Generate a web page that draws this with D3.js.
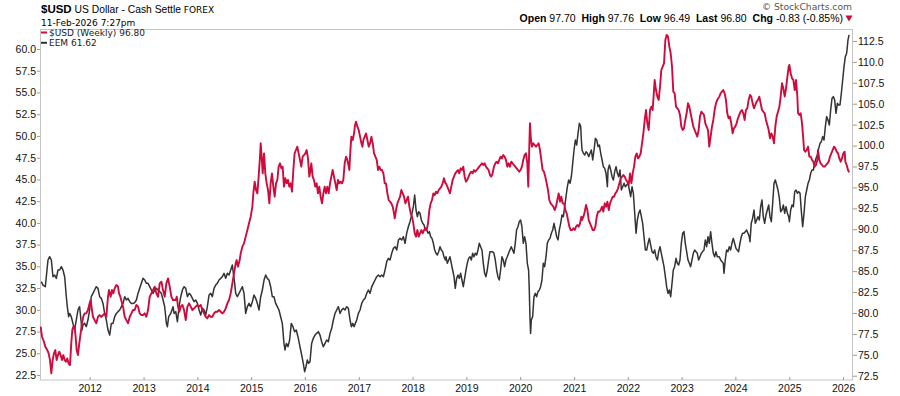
<!DOCTYPE html>
<html><head><meta charset="utf-8">
<script src="https://cdn.jsdelivr.net/npm/d3@7"></script>
<style>body{margin:0;background:#fff} svg{display:block}</style>
</head><body><svg id="c" width="900" height="396"></svg>
<script>
// ---- DATA (time as decimal year, value) ----
const usdSeries = [
[2011.089,78.36],[2011.113,77.16],[2011.150,76.56],[2011.175,75.97],[2011.212,75.57],[2011.237,75.17],[2011.262,74.37],[2011.287,72.78],[2011.312,74.37],[2011.336,75.17],[2011.361,75.57],[2011.386,74.37],[2011.411,74.97],[2011.435,75.37],[2011.460,74.97],[2011.485,74.37],[2011.510,74.97],[2011.535,74.37],[2011.559,74.18],[2011.584,74.57],[2011.609,73.97],[2011.634,73.77],[2011.658,76.36],[2011.677,77.96],[2011.696,78.36],[2011.720,78.36],[2011.739,77.16],[2011.758,75.57],[2011.782,74.97],[2011.807,76.36],[2011.832,77.56],[2011.857,78.76],[2011.881,79.55],[2011.906,79.95],[2011.937,79.95],[2011.968,80.35],[2011.999,81.15],[2012.018,81.55],[2012.043,80.35],[2012.061,79.55],[2012.092,79.15],[2012.123,78.76],[2012.154,79.55],[2012.185,79.75],[2012.216,79.55],[2012.247,79.75],[2012.278,79.95],[2012.309,79.55],[2012.340,81.94],[2012.358,82.74],[2012.389,81.94],[2012.414,82.74],[2012.439,82.34],[2012.464,82.94],[2012.495,83.34],[2012.526,83.14],[2012.544,82.34],[2012.569,81.94],[2012.600,81.15],[2012.619,80.75],[2012.650,79.55],[2012.681,79.15],[2012.712,78.76],[2012.743,79.55],[2012.774,79.95],[2012.805,80.35],[2012.835,80.35],[2012.866,80.95],[2012.897,80.75],[2012.928,79.95],[2012.959,79.75],[2012.990,79.75],[2013.021,79.95],[2013.052,79.55],[2013.083,80.35],[2013.114,81.94],[2013.145,82.34],[2013.176,82.74],[2013.207,83.14],[2013.238,82.34],[2013.269,81.94],[2013.300,83.54],[2013.331,83.74],[2013.362,82.74],[2013.393,81.94],[2013.424,83.54],[2013.455,84.13],[2013.486,83.14],[2013.517,81.94],[2013.548,81.55],
[2013.598,81.55],[2013.617,81.94],[2013.641,80.75],[2013.666,80.15],[2013.691,80.75],[2013.722,80.95],[2013.753,80.35],[2013.784,79.15],[2013.815,80.75],[2013.846,81.15],[2013.877,80.75],[2013.908,80.35],[2013.939,80.55],[2013.970,80.75],[2014.001,80.95],[2014.032,80.75],[2014.063,80.95],[2014.094,80.35],[2014.125,79.95],[2014.155,79.55],[2014.186,79.35],[2014.217,79.75],[2014.248,79.55],[2014.279,79.55],[2014.310,79.95],[2014.341,80.15],[2014.372,80.15],[2014.403,80.35],[2014.434,80.15],[2014.465,79.95],[2014.496,80.15],[2014.527,80.55],[2014.558,81.15],[2014.589,81.55],[2014.620,82.34],[2014.651,83.54],[2014.682,84.73],[2014.713,85.93],[2014.731,86.32],[2014.756,85.53],[2014.787,86.32],[2014.806,87.12],[2014.837,87.92],[2014.868,88.32],[2014.899,89.12],[2014.930,89.91],[2014.961,90.71],[2014.992,91.5],[2015.023,92.7],[2015.041,94.29],[2015.066,95.69],[2015.091,94.69],[2015.116,94.29],[2015.140,96.29],[2015.165,98.68],[2015.178,100.27],[2015.196,98.68],[2015.215,96.68],[2015.240,99.07],[2015.264,96.68],[2015.289,95.49],[2015.314,94.69],[2015.339,93.1],[2015.363,95.49],[2015.388,96.68],[2015.413,95.09],[2015.438,93.89],[2015.463,95.49],[2015.487,95.89],[2015.512,97.48],[2015.537,97.88],[2015.562,97.28],[2015.586,97.48],[2015.611,95.09],[2015.636,96.09],[2015.661,95.49],[2015.686,95.89],[2015.710,95.09],[2015.735,95.49],[2015.760,94.49],[2015.785,97.08],[2015.809,99.07],[2015.834,99.47],[2015.859,99.87],[2015.884,99.07],[2015.909,98.28],[2015.933,97.48],[2015.958,98.68],[2015.983,98.87],[2016.008,99.07],[2016.032,99.47],[2016.057,98.47],[2016.082,96.29],
[2016.094,96.68],[2016.119,97.88],[2016.144,96.29],[2016.168,95.89],[2016.193,95.09],[2016.218,95.49],[2016.243,94.29],[2016.267,95.09],[2016.292,93.89],[2016.317,93.1],[2016.342,94.29],[2016.367,95.09],[2016.391,94.29],[2016.416,95.09],[2016.441,94.29],[2016.466,95.49],[2016.490,96.29],[2016.515,97.08],[2016.540,96.29],[2016.565,95.49],[2016.590,94.69],[2016.614,95.89],[2016.639,95.49],[2016.664,95.69],[2016.689,95.49],[2016.713,95.89],[2016.738,97.88],[2016.763,98.68],[2016.788,98.28],[2016.813,97.48],[2016.825,97.08],[2016.844,99.47],[2016.862,101.07],[2016.887,100.67],[2016.912,101.46],[2016.930,102.46],[2016.949,102.86],[2016.974,102.26],[2016.998,101.86],[2017.023,101.07],[2017.048,100.27],[2017.067,99.87],[2017.085,100.67],[2017.110,101.07],[2017.135,101.46],[2017.160,100.67],[2017.184,99.87],[2017.209,100.27],[2017.234,101.07],[2017.259,100.27],[2017.283,99.07],[2017.308,98.68],[2017.333,98.28],[2017.358,97.08],[2017.382,97.48],[2017.407,97.08],[2017.432,97.08],[2017.457,96.68],[2017.482,95.49],[2017.506,95.49],[2017.531,94.29],[2017.556,93.5],[2017.581,93.3],[2017.605,93.1],[2017.630,92.7],[2017.655,91.9],[2017.667,91.3],[2017.692,92.3],[2017.717,93.1],[2017.742,93.5],[2017.767,93.89],[2017.791,94.69],[2017.816,94.29],[2017.841,93.89],[2017.866,93.1],[2017.890,93.5],[2017.915,93.89],[2017.940,92.7],[2017.965,91.9],[2017.990,91.5],[2018.014,90.71],[2018.039,89.51],[2018.064,89.12],[2018.089,89.91],[2018.113,89.12],[2018.138,89.51],[2018.163,89.91],[2018.188,89.51],[2018.213,89.91],[2018.237,90.11],[2018.262,89.91],[2018.287,90.71],[2018.312,92.3],[2018.336,93.1],[2018.361,93.5],[2018.386,94.29],[2018.411,94.09],[2018.436,94.49],[2018.460,94.29],[2018.485,94.69],[2018.510,94.89],[2018.535,95.09],[2018.559,95.49],[2018.584,96.09],[2018.609,95.49],
[2018.621,95.49],[2018.646,95.09],[2018.671,94.69],[2018.695,94.29],[2018.720,95.09],[2018.745,95.89],[2018.770,96.29],[2018.794,96.68],[2018.819,96.88],[2018.844,97.08],[2018.869,96.68],[2018.894,97.28],[2018.918,97.08],[2018.943,97.48],[2018.968,96.29],[2018.993,95.69],[2019.017,95.89],[2019.042,96.29],[2019.067,96.68],[2019.092,96.88],[2019.117,96.68],[2019.141,97.08],[2019.166,96.88],[2019.191,97.08],[2019.216,97.28],[2019.240,97.48],[2019.265,97.68],[2019.290,97.88],[2019.315,97.68],[2019.340,97.88],[2019.364,97.48],[2019.389,97.28],[2019.414,97.08],[2019.439,96.48],[2019.463,96.29],[2019.488,96.68],[2019.513,97.48],[2019.538,97.88],[2019.563,98.08],[2019.587,97.88],[2019.612,98.28],[2019.637,98.68],[2019.662,98.47],[2019.686,98.87],[2019.711,98.68],[2019.736,98.28],[2019.761,97.48],[2019.785,97.88],[2019.810,97.48],[2019.835,98.08],[2019.860,97.88],[2019.885,97.68],[2019.909,97.48],[2019.934,97.28],[2019.959,97.08],[2019.984,96.88],[2020.008,97.08],[2020.033,97.48],[2020.058,98.28],[2020.083,98.87],[2020.108,99.07],[2020.133,97.88],[2020.151,95.09],[2020.170,99.87],[2020.182,102.66],[2020.201,100.67],[2020.219,99.87],[2020.244,100.27],[2020.269,100.07],[2020.294,99.87],[2020.318,100.07],[2020.343,100.27],[2020.368,99.47],[2020.393,98.28],[2020.417,97.08],[2020.442,96.88],[2020.467,96.29],[2020.492,95.49],[2020.517,94.69],[2020.541,93.5],[2020.566,93.1],[2020.591,92.9],[2020.616,92.7],[2020.640,92.3],[2020.665,92.7],[2020.690,93.5],[2020.715,94.29],[2020.740,93.3],[2020.764,93.89],[2020.789,93.1],[2020.814,93.1],[2020.839,92.3],[2020.863,91.9],[2020.888,91.11],[2020.913,90.31],[2020.938,89.91],[2020.963,89.91],[2020.987,90.11],[2021.012,89.91],[2021.037,90.31],[2021.062,90.51],[2021.087,90.31],[2021.111,90.71],[2021.136,91.5],
[2021.149,91.11],[2021.174,91.5],[2021.199,92.1],[2021.223,92.9],[2021.248,92.3],[2021.273,91.11],[2021.298,90.71],[2021.322,90.31],[2021.347,89.91],[2021.372,89.91],[2021.397,90.31],[2021.422,91.5],[2021.446,92.1],[2021.471,92.1],[2021.496,92.3],[2021.521,92.7],[2021.545,92.1],[2021.570,93.1],[2021.595,92.7],[2021.620,93.3],[2021.645,92.3],[2021.669,93.1],[2021.694,93.5],[2021.719,93.89],[2021.744,93.89],[2021.768,94.29],[2021.793,94.49],[2021.818,94.89],[2021.843,95.49],[2021.868,96.09],[2021.892,96.29],[2021.917,96.48],[2021.942,96.29],[2021.967,95.89],[2021.991,95.69],[2022.016,95.29],[2022.041,96.68],[2022.066,95.49],[2022.091,96.68],[2022.115,97.48],[2022.140,98.68],[2022.165,99.07],[2022.190,98.47],[2022.214,98.68],[2022.239,99.07],[2022.264,100.27],[2022.289,101.46],[2022.314,103.06],[2022.338,104.25],[2022.363,102.66],[2022.388,101.86],[2022.413,104.25],[2022.437,104.65],[2022.462,104.25],[2022.487,106.64],[2022.499,107.84],[2022.524,106.64],[2022.549,105.85],[2022.574,105.45],[2022.599,107.04],[2022.623,109.03],[2022.648,109.43],[2022.673,109.83],[2022.698,112.62],[2022.722,113.22],[2022.747,113.02],[2022.772,111.82],[2022.797,111.03],[2022.822,109.43],[2022.846,106.44],[2022.871,106.25],[2022.896,104.65],[2022.921,104.45],[2022.945,104.25],[2022.970,103.66],[2022.995,102.26],[2023.020,101.86],[2023.045,102.06],[2023.069,103.06],[2023.094,103.86],[2023.119,105.05],[2023.144,104.65],[2023.168,103.86],[2023.193,103.06],[2023.218,102.26],[2023.243,101.86],[2023.268,101.46],[2023.292,101.07],[2023.317,101.86],[2023.342,103.46],[2023.367,104.05],[2023.391,103.86],[2023.416,103.66],[2023.441,102.66],[2023.466,102.26],[2023.491,101.86],[2023.515,99.87],[2023.540,101.07],[2023.565,102.26],[2023.590,103.06],[2023.614,104.25],[2023.639,105.05],[2023.664,105.45],
[2023.701,105.85],[2023.726,106.25],[2023.750,106.44],[2023.775,106.64],[2023.800,106.25],[2023.825,105.45],[2023.849,103.86],[2023.874,103.26],[2023.899,103.46],[2023.924,102.66],[2023.949,101.46],[2023.973,102.06],[2023.998,102.26],[2024.023,102.66],[2024.048,103.26],[2024.072,103.66],[2024.097,104.05],[2024.122,104.25],[2024.147,103.86],[2024.172,103.06],[2024.196,104.25],[2024.221,104.45],[2024.246,105.45],[2024.271,106.05],[2024.295,105.85],[2024.320,105.05],[2024.345,104.45],[2024.370,104.85],[2024.395,105.25],[2024.419,105.45],[2024.444,105.85],[2024.469,105.05],[2024.494,104.25],[2024.518,104.05],[2024.543,103.86],[2024.568,103.06],[2024.593,102.46],[2024.618,101.86],[2024.642,100.87],[2024.667,101.46],[2024.692,101.07],[2024.717,100.27],[2024.741,102.26],[2024.766,103.46],[2024.791,104.05],[2024.816,104.65],[2024.840,105.85],[2024.865,107.44],[2024.890,106.84],[2024.915,105.85],[2024.940,106.84],[2024.965,108.24],[2024.989,109.43],[2025.002,109.63],[2025.026,108.64],[2025.051,108.04],[2025.076,107.84],[2025.101,106.64],[2025.126,107.84],[2025.150,105.85],[2025.163,103.86],[2025.187,103.66],[2025.212,103.86],[2025.237,102.66],[2025.262,100.67],[2025.274,99.47],[2025.299,99.27],[2025.324,99.47],[2025.349,99.87],[2025.373,98.68],[2025.398,98.68],[2025.423,98.28],[2025.448,98.08],[2025.472,97.48],[2025.497,97.68],[2025.522,98.28],[2025.534,99.47],[2025.559,98.28],[2025.584,97.88],[2025.609,97.68],[2025.634,97.48],[2025.658,97.48],[2025.683,97.68],[2025.708,97.88],[2025.733,98.08],[2025.757,98.68],[2025.782,99.07],[2025.807,99.47],[2025.832,99.87],[2025.857,99.67],[2025.881,99.27],[2025.906,99.07],[2025.931,98.47],[2025.956,98.08],[2025.980,98.47],[2026.005,99.07],[2026.030,99.27],[2026.042,98.08],[2026.067,97.68],[2026.092,97.08],[2026.112,96.80]
];

const eemSeries = [
[2011.101,33.24],[2011.132,32.85],[2011.175,32.66],[2011.225,35.73],[2011.256,36.11],[2011.287,35.73],[2011.318,33.81],[2011.349,34.0],[2011.380,33.62],[2011.411,34.58],[2011.442,34.58],[2011.473,34.96],[2011.504,34.58],[2011.535,33.81],[2011.566,31.51],[2011.584,30.36],[2011.609,29.21],[2011.627,29.59],[2011.658,29.21],[2011.689,28.44],[2011.720,27.68],[2011.751,28.83],[2011.782,29.98],[2011.813,30.36],[2011.832,29.21],[2011.857,27.68],[2011.875,28.25],[2011.906,28.44],[2011.937,28.06],[2011.968,28.83],[2011.999,29.98],[2012.030,31.51],[2012.061,31.89],[2012.092,32.28],[2012.123,32.66],[2012.154,32.47],[2012.185,31.51],[2012.216,31.32],[2012.247,30.74],[2012.278,29.59],[2012.309,28.83],[2012.340,27.68],[2012.371,27.1],[2012.402,28.44],[2012.433,28.44],[2012.464,29.21],[2012.495,29.59],[2012.526,29.79],[2012.557,29.98],[2012.588,30.36],[2012.619,30.74],[2012.650,31.51],[2012.681,31.13],[2012.712,31.32],[2012.743,30.94],[2012.774,30.74],[2012.805,30.74],[2012.835,30.82],[2012.866,31.13],[2012.897,31.89],[2012.928,32.47],[2012.959,33.05],[2012.990,33.62],[2013.021,33.43],[2013.052,33.05],[2013.083,33.05],[2013.114,32.66],[2013.145,32.28],[2013.176,31.89],[2013.207,32.28],[2013.238,32.47],[2013.269,32.28],[2013.331,31.89],[2013.362,31.13],[2013.393,30.36],[2013.424,28.44],[2013.443,28.06],[2013.467,29.21],[2013.505,29.59],[2013.548,30.36],
[2013.567,29.59],[2013.598,29.79],[2013.629,28.64],[2013.660,30.36],[2013.691,31.51],[2013.722,32.28],[2013.753,32.66],[2013.784,32.47],[2013.815,31.51],[2013.846,31.89],[2013.877,31.7],[2013.908,31.32],[2013.939,30.94],[2013.970,31.13],[2014.001,30.74],[2014.032,29.98],[2014.063,29.4],[2014.094,30.17],[2014.125,29.98],[2014.155,29.4],[2014.186,30.36],[2014.217,31.7],[2014.248,31.89],[2014.279,31.51],[2014.310,32.47],[2014.341,32.85],[2014.372,33.05],[2014.403,33.43],[2014.434,33.62],[2014.465,33.81],[2014.496,34.2],[2014.527,33.62],[2014.558,34.2],[2014.589,34.0],[2014.620,34.58],[2014.651,35.15],[2014.670,34.2],[2014.694,33.05],[2014.713,31.89],[2014.744,31.51],[2014.775,31.89],[2014.806,32.28],[2014.837,32.66],[2014.868,31.89],[2014.899,29.59],[2014.930,30.36],[2014.961,30.74],[2014.992,30.36],[2015.023,30.94],[2015.054,31.7],[2015.085,31.32],[2015.116,30.74],[2015.147,29.98],[2015.178,31.51],[2015.209,32.28],[2015.240,33.43],[2015.271,34.0],[2015.301,33.62],[2015.332,33.43],[2015.363,32.66],[2015.394,31.51],[2015.425,31.51],[2015.456,30.74],[2015.487,30.36],[2015.518,29.98],[2015.549,29.21],[2015.580,28.44],[2015.611,26.14],[2015.630,25.38],[2015.655,26.14],[2015.686,25.76],[2015.716,26.53],[2015.747,28.44],[2015.778,28.06],[2015.809,27.49],[2015.840,27.68],[2015.871,26.91],[2015.896,26.14],[2015.921,25.38],[2015.946,24.61],[2015.970,23.84],[2015.995,22.88],[2016.020,23.46],[2016.045,24.23],[2016.070,23.84],
[2016.094,24.03],[2016.125,26.14],[2016.156,26.72],[2016.187,27.1],[2016.218,27.29],[2016.249,27.49],[2016.280,27.1],[2016.311,26.33],[2016.342,25.76],[2016.373,26.14],[2016.404,26.53],[2016.435,26.33],[2016.466,27.29],[2016.497,27.87],[2016.528,28.83],[2016.559,29.59],[2016.590,29.98],[2016.621,30.36],[2016.652,29.59],[2016.682,29.98],[2016.713,30.17],[2016.744,29.98],[2016.775,30.36],[2016.806,30.17],[2016.837,28.83],[2016.862,28.06],[2016.887,28.44],[2016.912,28.06],[2016.936,28.44],[2016.961,28.83],[2016.992,29.59],[2017.023,29.98],[2017.054,30.74],[2017.085,31.13],[2017.116,31.32],[2017.147,31.89],[2017.178,32.28],[2017.209,31.89],[2017.240,32.66],[2017.271,33.05],[2017.302,33.43],[2017.333,33.81],[2017.364,34.0],[2017.395,33.81],[2017.426,34.0],[2017.457,33.81],[2017.488,34.58],[2017.519,35.54],[2017.550,35.92],[2017.581,35.73],[2017.612,36.5],[2017.643,37.07],[2017.674,37.26],[2017.705,36.88],[2017.736,38.03],[2017.767,38.22],[2017.798,38.03],[2017.829,38.41],[2017.860,37.65],[2017.890,38.8],[2017.921,39.56],[2017.952,40.14],[2017.983,40.91],[2018.014,41.86],[2018.039,43.21],[2018.064,41.48],[2018.089,40.71],[2018.113,41.29],[2018.138,41.1],[2018.163,40.33],[2018.188,39.95],[2018.213,39.76],[2018.237,39.18],[2018.262,39.18],[2018.287,38.8],[2018.312,38.99],[2018.336,38.41],[2018.361,38.22],[2018.386,37.65],[2018.411,36.88],[2018.436,36.5],[2018.460,36.3],[2018.485,36.69],[2018.510,37.26],[2018.535,36.88],[2018.559,36.69],[2018.584,36.11],[2018.609,35.73],
[2018.621,36.11],[2018.646,35.35],[2018.671,35.73],[2018.695,36.11],[2018.720,35.35],[2018.745,34.58],[2018.770,33.81],[2018.794,32.47],[2018.819,33.62],[2018.844,34.0],[2018.869,33.62],[2018.894,34.2],[2018.918,33.43],[2018.943,32.66],[2018.968,33.62],[2018.993,34.58],[2019.017,35.35],[2019.042,35.92],[2019.067,36.11],[2019.092,35.73],[2019.117,36.5],[2019.141,36.11],[2019.166,36.5],[2019.191,36.3],[2019.216,36.88],[2019.240,37.65],[2019.265,37.26],[2019.290,36.88],[2019.315,35.35],[2019.340,34.2],[2019.364,33.81],[2019.389,34.58],[2019.414,35.73],[2019.439,36.69],[2019.463,36.69],[2019.488,36.69],[2019.513,36.5],[2019.538,35.73],[2019.563,34.58],[2019.587,33.81],[2019.612,33.43],[2019.637,34.58],[2019.662,36.11],[2019.686,35.73],[2019.711,34.96],[2019.736,35.73],[2019.761,36.11],[2019.785,36.5],[2019.810,36.88],[2019.835,37.26],[2019.860,36.88],[2019.885,36.5],[2019.909,37.65],[2019.934,39.18],[2019.959,39.56],[2019.984,40.14],[2020.008,40.33],[2020.033,39.56],[2020.058,37.65],[2020.083,38.41],[2020.108,37.65],[2020.133,35.35],[2020.157,34.58],[2020.170,32.28],[2020.182,29.21],[2020.194,27.29],[2020.207,28.83],[2020.232,29.21],[2020.257,31.51],[2020.281,31.89],[2020.306,31.51],[2020.331,32.09],[2020.356,32.28],[2020.380,32.66],[2020.405,33.43],[2020.430,35.35],[2020.455,34.96],[2020.480,36.11],[2020.504,37.65],[2020.529,38.03],[2020.554,38.22],[2020.579,38.8],[2020.604,39.18],[2020.628,39.95],[2020.653,39.18],[2020.678,38.41],[2020.703,38.03],[2020.727,39.18],[2020.752,39.95],[2020.777,40.91],[2020.802,40.71],[2020.826,41.86],[2020.851,43.01],[2020.876,44.16],[2020.901,44.93],[2020.926,44.55],[2020.950,45.31],[2020.975,46.85],[2021.000,48.38],[2021.024,49.53],[2021.049,48.96],[2021.074,50.3],[2021.099,51.45],[2021.124,51.07],[2021.136,49.53],
[2021.149,48.38],[2021.174,48.0],[2021.199,47.81],[2021.223,48.19],[2021.248,48.0],[2021.273,47.62],[2021.298,48.0],[2021.322,48.38],[2021.347,47.23],[2021.372,48.38],[2021.397,49.72],[2021.422,49.53],[2021.446,48.77],[2021.471,48.96],[2021.496,48.0],[2021.521,47.23],[2021.545,46.46],[2021.570,46.27],[2021.595,45.7],[2021.620,44.16],[2021.632,46.08],[2021.657,46.66],[2021.682,46.08],[2021.707,45.31],[2021.731,44.93],[2021.756,45.89],[2021.781,46.46],[2021.806,45.7],[2021.830,45.31],[2021.855,46.08],[2021.880,43.78],[2021.905,44.16],[2021.930,44.55],[2021.954,44.16],[2021.979,44.36],[2022.004,44.55],[2022.029,43.78],[2022.053,43.01],[2022.078,44.16],[2022.103,43.4],[2022.128,41.1],[2022.153,38.8],[2022.177,40.33],[2022.202,41.1],[2022.227,41.48],[2022.252,40.71],[2022.276,39.95],[2022.301,38.41],[2022.326,36.88],[2022.351,36.88],[2022.376,37.65],[2022.400,38.22],[2022.425,37.45],[2022.450,36.69],[2022.475,36.5],[2022.499,36.88],[2022.524,36.11],[2022.549,35.73],[2022.574,36.69],[2022.599,37.26],[2022.623,36.5],[2022.648,35.73],[2022.673,34.96],[2022.698,33.81],[2022.722,32.66],[2022.747,31.89],[2022.772,32.28],[2022.797,31.51],[2022.822,33.05],[2022.846,34.58],[2022.871,34.96],[2022.896,35.92],[2022.921,35.35],[2022.945,35.15],[2022.970,35.73],[2022.995,37.65],[2023.020,38.8],[2023.045,38.99],[2023.069,37.65],[2023.094,36.69],[2023.119,35.73],[2023.144,35.35],[2023.168,34.96],[2023.193,35.73],[2023.218,36.5],[2023.243,36.88],[2023.268,36.69],[2023.292,36.5],[2023.317,35.73],[2023.342,36.11],[2023.367,36.5],[2023.391,36.69],[2023.416,36.88],[2023.441,38.03],[2023.466,37.26],[2023.491,38.41],[2023.515,37.65],[2023.540,38.99],[2023.565,37.65],[2023.590,36.5],[2023.614,36.11],[2023.639,36.69],[2023.664,36.11],
[2023.701,36.11],[2023.726,35.73],[2023.750,35.54],[2023.775,35.35],[2023.788,34.2],[2023.812,35.73],[2023.837,36.88],[2023.862,36.69],[2023.887,37.26],[2023.911,36.88],[2023.936,37.65],[2023.961,38.22],[2023.986,37.65],[2024.011,37.07],[2024.035,36.88],[2024.060,36.69],[2024.085,37.65],[2024.110,38.41],[2024.134,38.8],[2024.159,38.8],[2024.184,38.99],[2024.209,39.18],[2024.234,38.8],[2024.258,38.41],[2024.271,37.84],[2024.295,39.95],[2024.320,40.52],[2024.345,41.48],[2024.370,39.95],[2024.395,40.33],[2024.419,40.71],[2024.444,40.33],[2024.469,41.86],[2024.494,42.63],[2024.518,40.71],[2024.543,39.95],[2024.568,40.91],[2024.593,41.48],[2024.618,42.06],[2024.642,40.71],[2024.667,40.14],[2024.692,42.25],[2024.717,44.55],[2024.741,44.93],[2024.766,44.36],[2024.791,43.78],[2024.816,42.82],[2024.840,41.29],[2024.865,41.48],[2024.890,42.06],[2024.915,41.1],[2024.940,41.86],[2024.965,41.1],[2024.989,40.71],[2025.002,40.14],[2025.026,41.48],[2025.051,42.06],[2025.076,41.86],[2025.101,43.59],[2025.126,43.78],[2025.150,43.4],[2025.175,43.59],[2025.200,43.4],[2025.225,41.29],[2025.249,39.56],[2025.274,41.1],[2025.299,43.01],[2025.324,43.78],[2025.349,44.55],[2025.373,44.93],[2025.398,45.7],[2025.423,46.08],[2025.448,46.08],[2025.472,46.85],[2025.497,47.42],[2025.522,47.81],[2025.547,48.57],[2025.572,49.15],[2025.596,49.34],[2025.621,49.92],[2025.646,49.53],[2025.671,51.07],[2025.695,52.22],[2025.720,51.83],[2025.745,51.26],[2025.770,53.0],[2025.795,54.33],[2025.819,54.52],[2025.844,54.13],[2025.869,52.6],[2025.894,53.75],[2025.918,53.56],[2025.943,53.56],[2025.968,54.9],[2025.993,56.43],[2026.018,57.97],[2026.042,59.12],[2026.067,59.5],[2026.080,60.27],[2026.092,61.04],[2026.112,61.62]
];

const leftTickValues = [22.5,25,27.5,30,32.5,35,37.5,40,42.5,45,47.5,50,52.5,55,57.5,60];
const rightTickValues = [72.5,75,77.5,80,82.5,85,87.5,90,92.5,95,97.5,100,102.5,105,107.5,110,112.5];
const yearTickValues = [2012,2013,2014,2015,2016,2017,2018,2019,2020,2021,2022,2023,2024,2025,2026];
const quoteLabels = ["Open","High","Low","Last","Chg"];
const quoteValues = ["97.70","97.76","96.49","96.80","-0.83 (-0.85%)"];
const legendLabels = ["$USD (Weekly) 96.80","EEM 61.62"];

// ---- LAYOUT ----
const W = 900, H = 396;
const P = {l: 40, r: 853, t: 29.5, b: 380};
const RED = "#cf0a3c", BLACK = "#333333";

function toDate(t){
  const y = Math.floor(t);
  const s = new Date(y,0,1), e = new Date(y+1,0,1);
  return new Date(+s + (t - y) * (e - s));
}

const x = d3.scaleTime().domain([toDate(2011.0764), toDate(2026.185)]).range([P.l, P.r]);
const yL = d3.scaleLinear().domain([21.93, 62.24]).range([P.b, P.t]);
const yR = d3.scaleLinear().domain([71.99, 113.87]).range([P.b, P.t]);

const svg = d3.select("#c");
svg.append("rect").attr("width",W).attr("height",H).attr("fill","#fff");

svg.append("defs").append("clipPath").attr("id","clip")
  .append("rect").attr("x",P.l).attr("y",P.t).attr("width",P.r-P.l).attr("height",P.b-P.t);

// frame
svg.append("rect").attr("x",P.l+0.5).attr("y",P.t).attr("width",P.r-P.l-1).attr("height",P.b-P.t)
  .attr("fill","none").attr("stroke","#c4c4c4").attr("stroke-width",1);

// axes
const axFont = "Liberation Sans, Arial, sans-serif";
const gL = svg.append("g").attr("transform",`translate(${P.l},0)`)
  .call(d3.axisLeft(yL).tickValues(leftTickValues).tickFormat(d3.format(".1f")).tickSize(3).tickPadding(1));
const gR = svg.append("g").attr("transform",`translate(${P.r},0)`)
  .call(d3.axisRight(yR).tickValues(rightTickValues).tickFormat(d3.format(".1f")).tickSize(4).tickPadding(1));
const gB = svg.append("g").attr("transform",`translate(0,${P.b})`)
  .call(d3.axisBottom(x).tickValues(yearTickValues.map(y=>new Date(y,0,1))).tickFormat(d3.timeFormat("%Y")).tickSizeInner(-3).tickSizeOuter(0).tickPadding(4));
[gL,gR,gB].forEach(g=>{
  g.select(".domain").remove();
  g.selectAll(".tick line").attr("stroke","#9a9a9a");
  g.selectAll(".tick text").attr("fill","#111").style("font-family",axFont).style("font-size","10.5px");
});
gB.selectAll(".tick text").attr("dy","0.75em");

// lines
const lineL = d3.line().x(d=>x(toDate(d[0]))).y(d=>yL(d[1]));
const lineR = d3.line().x(d=>x(toDate(d[0]))).y(d=>yR(d[1]));
const plot = svg.append("g").attr("clip-path","url(#clip)");
plot.append("path").datum(eemSeries).attr("d",lineL).attr("fill","none")
  .attr("stroke",BLACK).attr("stroke-width",1.5).attr("stroke-linejoin","round");
plot.append("path").datum(usdSeries).attr("d",lineR).attr("fill","none")
  .attr("stroke",RED).attr("stroke-width",1.9).attr("stroke-linejoin","round");

// legend
const legColors = [RED, BLACK];
legendLabels.forEach((t,i)=>{
  const yy = 32.5 + i*10.3;
  svg.append("line").attr("x1",41).attr("x2",47).attr("y1",yy).attr("y2",yy)
    .attr("stroke",legColors[i]).attr("stroke-width",2);
  svg.append("text").attr("x",49).attr("y",yy+3.5).text(t)
    .style("font-family","DejaVu Sans, Verdana, sans-serif").style("font-size","9px").attr("fill","#222");
});

// header
const h1 = svg.append("text").attr("x",41).attr("y",12.5).attr("fill","#000").style("font-family",axFont);
h1.append("tspan").text("$USD").style("font-weight","bold").style("font-size","11.5px");
h1.append("tspan").text(" US Dollar - Cash Settle ").style("font-size","10.3px");
h1.append("tspan").text("FOREX").style("font-family","DejaVu Sans, Verdana, sans-serif").style("font-size","9px");

svg.append("text").attr("x",41).attr("y",26).text("11-Feb-2026 7:27pm")
  .style("font-family","DejaVu Sans, Verdana, sans-serif").style("font-size","9px").attr("fill","#000");

svg.append("text").attr("x",852).attr("y",9.5).attr("text-anchor","end").text("\u00A9 StockCharts.com")
  .style("font-family","DejaVu Sans, Verdana, sans-serif").style("font-size","9.2px").attr("fill","#555");

const q = svg.append("text").attr("x",843).attr("y",21.5).attr("text-anchor","end")
  .style("font-family",axFont).style("font-size","10.5px").attr("fill","#000");
quoteLabels.forEach((lab,i)=>{
  q.append("tspan").text((i? "  " : "") + lab).style("font-weight","bold").attr("xml:space","preserve");
  q.append("tspan").text(" " + quoteValues[i]);
});
q.attr("xml:space","preserve");
svg.append("path").attr("d", d3.symbol(d3.symbolTriangle, 22)())
  .attr("transform","translate(849,17.5) rotate(180)").attr("fill",RED);
</script>
</body></html>
